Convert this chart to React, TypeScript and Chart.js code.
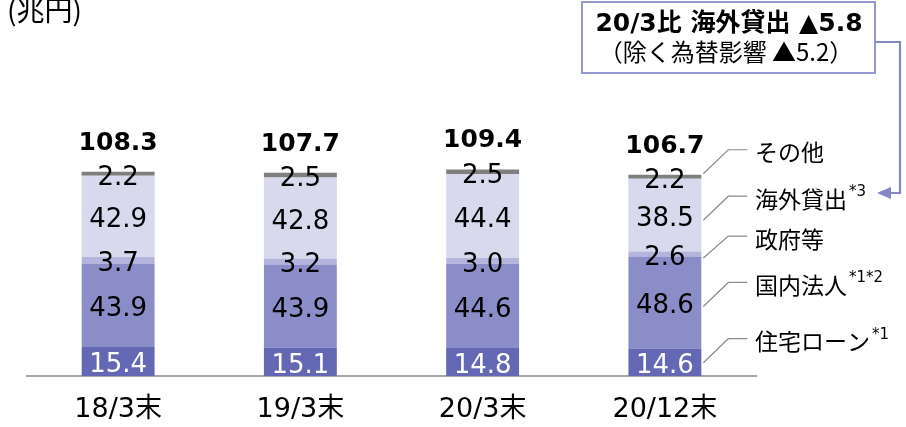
import React, { useEffect, useRef } from "react";
import { Chart, registerables } from "chart.js";

Chart.register(...registerables);

const categories = ["18/3末", "19/3末", "20/3末", "20/12末"];
const housingLoans = [15.4, 15.1, 14.8, 14.6];
const domesticCorporates = [43.9, 43.9, 44.6, 48.6];
const government = [3.7, 3.2, 3.0, 2.6];
const overseasLoans = [42.9, 42.8, 44.4, 38.5];
const others = [2.2, 2.5, 2.5, 2.2];
const totals = [108.3, 107.7, 109.4, 106.7];

const seriesNames = ["住宅ローン", "国内法人", "政府等", "海外貸出", "その他"];
const seriesNotes = ["*1", "*1*2", "", "*3", ""];
const seriesColors = ["#6467b4", "#8b8dc9", "#b4b5dd", "#d9d9ee", "#7f7f7f"];
const labelColors = ["#ffffff", "#000000", "#000000", "#000000", "#000000"];

const unitLabel = "(兆円)";
const noteLine1 = "20/3比 海外貸出 ▲5.8";
const noteLine2 = "（除く為替影響 ▲5.2）";

const FONT = "'DejaVu Sans', 'Noto Sans CJK JP', sans-serif";
const JFONT = "'Noto Sans CJK JP', 'DejaVu Sans', sans-serif";

const overlayPlugin = {
  id: "overlay",
  afterDatasetsDraw(chart: any) {
    const ctx = chart.ctx;
    ctx.save();
    // segment labels
    chart.data.datasets.forEach((ds: any, i: number) => {
      const meta = chart.getDatasetMeta(i);
      meta.data.forEach((el: any, j: number) => {
        const mid = (el.y + el.base) / 2;
        ctx.font = `26px ${FONT}`;
        ctx.fillStyle = labelColors[i];
        ctx.textAlign = "center";
        ctx.textBaseline = "alphabetic";
        ctx.fillText(ds.data[j].toFixed(1), el.x, mid + 11);
      });
    });
    // totals
    const lastMeta = chart.getDatasetMeta(chart.data.datasets.length - 1);
    lastMeta.data.forEach((el: any, j: number) => {
      ctx.font = `bold 25px ${FONT}`;
      ctx.fillStyle = "#000000";
      ctx.textAlign = "center";
      ctx.textBaseline = "alphabetic";
      ctx.fillText(totals[j].toFixed(1), el.x, el.y - 22);
    });
    // legend connectors on the last bar
    const offsets = [0.5, 4, 4, 5, -3];
    const rise = [24, 24, 22, 24, 24];
    const n = categories.length - 1;
    chart.data.datasets.forEach((ds: any, i: number) => {
      const el = chart.getDatasetMeta(i).data[n];
      const mid = (el.y + el.base) / 2;
      const x0 = el.x + el.width / 2 + 2;
      const y1 = mid + offsets[i];
      const y2 = y1 - rise[i];
      ctx.strokeStyle = "#8c8c8c";
      ctx.lineWidth = 1.2;
      ctx.beginPath();
      ctx.moveTo(x0, y1);
      ctx.lineTo(x0 + 25, y2);
      ctx.lineTo(x0 + 44, y2);
      ctx.stroke();
      const tx = 755;
      ctx.font = `23px ${JFONT}`;
      ctx.fillStyle = "#000000";
      ctx.textAlign = "left";
      ctx.textBaseline = "middle";
      ctx.fillText(seriesNames[i], tx, y2 + 3);
      if (seriesNotes[i]) {
        const w = ctx.measureText(seriesNames[i]).width;
        ctx.font = `15px ${FONT}`;
        ctx.fillText(seriesNotes[i], tx + w + 2, y2 - 4);
      }
    });
    ctx.restore();
  },
  afterDraw(chart: any) {
    const ctx = chart.ctx;
    ctx.save();
    // unit
    ctx.font = `28px ${JFONT}`;
    ctx.fillStyle = "#000000";
    ctx.textAlign = "left";
    ctx.textBaseline = "alphabetic";
    ctx.fillText(unitLabel, 7, 21);
    // note box
    ctx.fillStyle = "#ffffff";
    ctx.fillRect(582, 2, 293, 71);
    ctx.strokeStyle = "#9597d0";
    ctx.lineWidth = 2;
    ctx.strokeRect(582, 2, 293, 71);
    ctx.fillStyle = "#000000";
    ctx.textAlign = "center";
    ctx.textBaseline = "middle";
    ctx.font = `bold 25px ${FONT}`;
    ctx.fillText(noteLine1, 729, 24);
    ctx.font = `24px ${JFONT}`;
    ctx.fillText(noteLine2, 726, 52);
    // arrow
    ctx.strokeStyle = "#8486c8";
    ctx.lineWidth = 2.2;
    ctx.beginPath();
    ctx.moveTo(876, 42);
    ctx.lineTo(900, 42);
    ctx.lineTo(900, 193);
    ctx.lineTo(888, 193);
    ctx.stroke();
    ctx.fillStyle = "#8486c8";
    ctx.beginPath();
    ctx.moveTo(877, 193);
    ctx.lineTo(891, 187);
    ctx.lineTo(891, 199);
    ctx.closePath();
    ctx.fill();
    ctx.restore();
  },
};

export default function App() {
  const ref = useRef<HTMLCanvasElement | null>(null);
  useEffect(() => {
    if (!ref.current) return;
    const seriesData = [housingLoans, domesticCorporates, government, overseasLoans, others];
    const chart = new Chart(ref.current, {
      type: "bar",
      data: {
        labels: categories,
        datasets: seriesData.map((d, i) => ({
          label: seriesNames[i],
          data: d,
          backgroundColor: seriesColors[i],
          borderWidth: 0,
          barPercentage: 1,
          categoryPercentage: 0.4,
        })),
      },
      options: {
        responsive: false,
        animation: false,
        layout: { padding: { left: 27, right: 150, top: 100, bottom: 0 } },
        plugins: { legend: { display: false }, tooltip: { enabled: false } },
        scales: {
          x: {
            stacked: true,
            grid: { display: false, drawTicks: false },
            border: { display: true, color: "#a6a6a6", width: 2 },
            ticks: { color: "#000000", font: { size: 27, family: FONT }, padding: 18 },
            afterFit: (axis: any) => {
              axis.height = 51;
            },
          },
          y: {
            stacked: true,
            display: false,
            min: 0,
            max: 146,
          },
        },
      },
      plugins: [overlayPlugin],
    });
    return () => chart.destroy();
  }, []);
  return (
    <div style={{ position: "absolute", left: 0, top: 0, width: 906, height: 427, background: "#fff" }}>
      <canvas ref={ref} width={906} height={427} style={{ display: "block" }} />
    </div>
  );
}
